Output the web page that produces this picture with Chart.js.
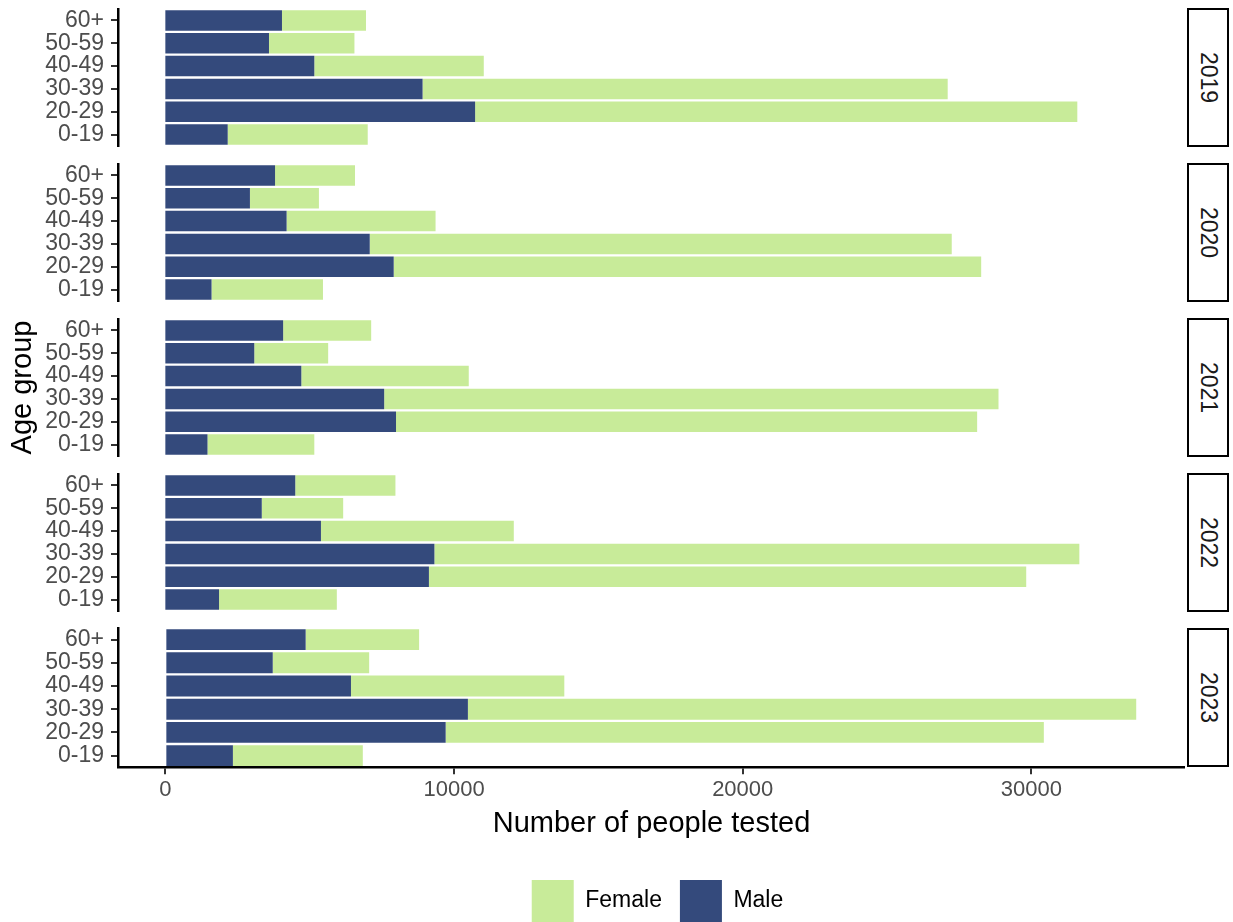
<!DOCTYPE html>
<html>
<head>
<meta charset="utf-8">
<script src="https://cdn.jsdelivr.net/npm/chart.js@4.4.1/dist/chart.umd.min.js"></script>
<style>
  body { margin: 0; width: 1233px; height: 922px; overflow: hidden; background: #fff; position: relative;
         font-family: "Liberation Sans", Arial, sans-serif; }
  .panel { position: absolute; left: 0; width: 1185px; }
  .strip { position: absolute; left: 1187px; width: 38px; border: 2px solid #000; background: #fff;
           display: flex; align-items: center; justify-content: center; }
  .strip span { writing-mode: vertical-rl; font-size: 23px; color: #1a1a1a; }
</style>
</head>
<body>
<script>
// age groups, bottom to top within each panel
const ageGroups = ["0-19", "20-29", "30-39", "40-49", "50-59", "60+"];
const years = ["2019", "2020", "2021", "2022", "2023"];

// counts
const male2019   = [2160, 10730, 8910, 5160, 3590, 4040];
const female2019 = [4850, 20860, 18190, 5870, 2960, 2910];
const male2020   = [1600, 7910, 7080, 4200, 2930, 3800];
const female2020 = [3860, 20350, 20160, 5160, 2390, 2770];
const male2021   = [1460, 7990, 7580, 4710, 3080, 4080];
const female2021 = [3700, 20130, 21280, 5800, 2560, 3050];
const male2022   = [1860, 9130, 9320, 5390, 3340, 4500];
const female2022 = [4080, 20690, 22340, 6680, 2820, 3470];
const male2023   = [2340, 9710, 10480, 6430, 3720, 4860];
const female2023 = [4500, 20720, 23150, 7390, 3340, 3930];

const maleByYear = [male2019, male2020, male2021, male2022, male2023];
const femaleByYear = [female2019, female2020, female2021, female2022, female2023];

const xTicks = [0, 10000, 20000, 30000];
const xMin = -1640;
const xMax = 35320;

const maleColor = "#344a7c";
const femaleColor = "#c8eb99";

Chart.defaults.font.family = '"Liberation Sans", Arial, sans-serif';

const panelStep = 155;

// nudge the legend a bit to the right, like the original
const legendNudge = {
  id: "legendNudge",
  afterLayout(chart) {
    if (chart.legend && chart.legend.options.display) {
      chart.legend.left += 6;
      chart.legend.right += 6;
    }
  }
};

function buildPanel(i) {
  const isLast = i === years.length - 1;

  // container for the canvas
  const box = document.createElement("div");
  box.className = "panel";
  box.style.top = (i * panelStep) + "px";
  box.style.height = (isLast ? 312 : panelStep) + "px";
  const canvas = document.createElement("canvas");
  box.appendChild(canvas);
  document.body.appendChild(box);

  // facet strip on the right
  const strip = document.createElement("div");
  strip.className = "strip";
  strip.style.top = (i * panelStep + 8) + "px";
  strip.style.height = "135px";
  strip.innerHTML = "<span>" + years[i] + "</span>";
  document.body.appendChild(strip);

  new Chart(canvas, {
    type: "bar",
    data: {
      labels: ageGroups,
      datasets: [
        { label: "Male", data: maleByYear[i], backgroundColor: maleColor, borderWidth: 0 },
        { label: "Female", data: femaleByYear[i], backgroundColor: femaleColor, borderWidth: 0 }
      ]
    },
    options: {
      indexAxis: "y",
      responsive: true,
      maintainAspectRatio: false,
      animation: false,
      datasets: { bar: { categoryPercentage: 0.9, barPercentage: 1.0 } },
      layout: { padding: { top: isLast ? 8 : 9, bottom: isLast ? 0 : 9, left: 0, right: 0 } },
      scales: {
        x: {
          type: "linear",
          stacked: true,
          min: xMin,
          max: xMax,
          display: isLast,
          afterBuildTicks: (scale) => { scale.ticks = xTicks.map(v => ({ value: v })); },
          grid: { drawOnChartArea: false, drawTicks: true, tickLength: 7, color: "#333", lineWidth: 2 },
          border: { display: true, color: "#000", width: 2.5 },
          ticks: { color: "#4d4d4d", font: { size: 22, lineHeight: 1.0 }, padding: 5,
                   callback: (v) => String(v) },
          title: {
            display: true, text: "Number of people tested", color: "#000",
            font: { size: 29 }, padding: { top: 0, bottom: 21 }
          }
        },
        y: {
          stacked: true,
          reverse: true,
          offset: true,
          afterFit: (scale) => {
            scale.width = 118;
            // no extra room for the first/last label, bars fill the panel
            scale.paddingTop = 0;
            scale.paddingBottom = 0;
          },
          grid: { offset: false, drawOnChartArea: false, drawTicks: true, tickLength: 7, color: "#333", lineWidth: 2 },
          border: { display: true, color: "#000", width: 2.5 },
          ticks: { color: "#4d4d4d", font: { size: 23 }, padding: 7, autoSkip: false },
          title: {
            display: i === 2, text: "Age group", color: "#000",
            font: { size: 29 }, padding: { top: 6, bottom: 0 }
          }
        }
      },
      plugins: {
        legend: {
          display: isLast,
          position: "bottom",
          fullSize: false,
          reverse: true,
          labels: { boxWidth: 42, boxHeight: 42, color: "#000", font: { size: 23 }, padding: 18 }
        },
        tooltip: { enabled: false }
      }
    },
    plugins: [legendNudge]
  });
}

years.forEach((y, i) => buildPanel(i));
</script>
</body>
</html>
